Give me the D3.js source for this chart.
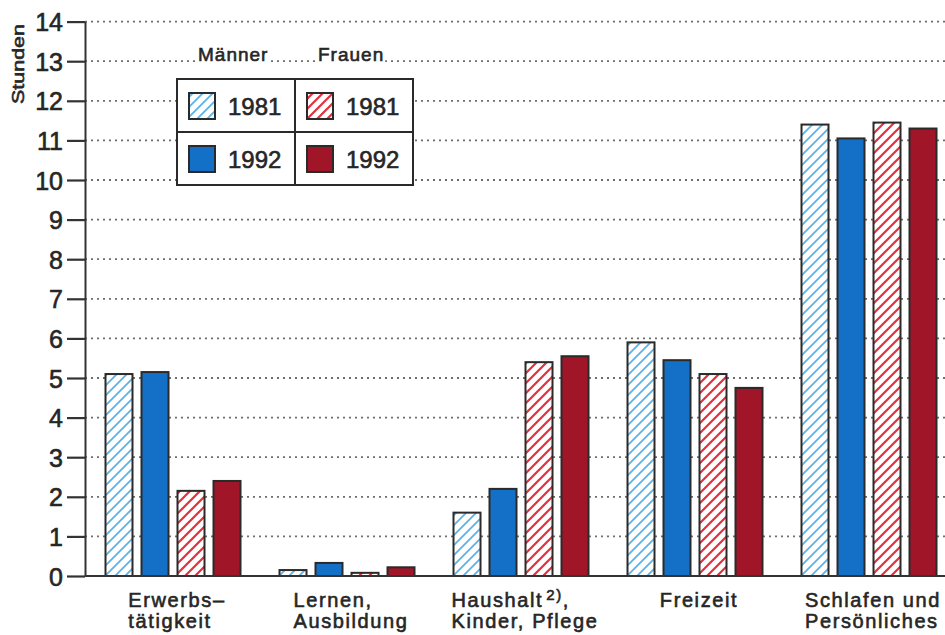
<!DOCTYPE html>
<html>
<head>
<meta charset="utf-8">
<script src="https://cdn.jsdelivr.net/npm/d3@7"></script>
<style>
  body { margin: 0; background: #fff; }
  svg { display: block; }
  text { font-family: "Liberation Sans", Arial, sans-serif; fill: #262626; stroke: #262626; stroke-width: 0.6px; }
</style>
</head>
<body>
<svg id="chart" width="945" height="635"></svg>
<script>
// Zeitverwendung pro Tag (Stunden) nach Tätigkeit, Geschlecht und Jahr
const categories = [
  ["Erwerbs–", "tätigkeit"],
  ["Lernen,", "Ausbildung"],
  ["Haushalt{2)},", "Kinder, Pflege"],
  ["Freizeit"],
  ["Schlafen und", "Persönliches"]
];
const maenner1981 = [5.1, 0.15, 1.6, 5.9, 11.4];
const maenner1992 = [5.15, 0.33, 2.2, 5.45, 11.05];
const frauen1981 = [2.15, 0.08, 5.4, 5.1, 11.45];
const frauen1992 = [2.4, 0.22, 5.55, 4.75, 11.3];
const yTicks = [0, 1, 2, 3, 4, 5, 6, 7, 8, 9, 10, 11, 12, 13, 14];
const yTitle = "Stunden";
const legendGroups = ["Männer", "Frauen"];
const legendYears = ["1981", "1992"];

const series = [
  { key: "m81", values: maenner1981, fill: "url(#hatchBlue)" },
  { key: "m92", values: maenner1992, fill: "#1470c6" },
  { key: "f81", values: frauen1981, fill: "url(#hatchRed)" },
  { key: "f92", values: frauen1992, fill: "#a11529" }
];

const W = 945, H = 635;
const axisX = 85, baseY = 576, topY = 21.6;
const svg = d3.select("#chart");

// Hatch patterns for the 1981 bars
const defs = svg.append("defs");
function hatch(id, color, width) {
  const p = defs.append("pattern")
    .attr("id", id).attr("patternUnits", "userSpaceOnUse")
    .attr("width", 10).attr("height", 10);
  p.append("rect").attr("width", 10).attr("height", 10).attr("fill", "#fff");
  p.append("path")
    .attr("d", "M-2,2 L2,-2 M0,10 L10,0 M8,12 L12,8")
    .attr("stroke", color).attr("stroke-width", width);
}
hatch("hatchBlue", "#5cb3e8", 1.8);
hatch("hatchRed", "#e5303c", 2.2);

const y = d3.scaleLinear().domain([0, 14]).range([baseY, topY]);
const x0 = d3.scaleBand().domain(d3.range(categories.length))
  .range([axisX + 1, axisX + 1 + 870]).paddingInner(30 / 174).paddingOuter(15 / 174);
const x1 = d3.scaleBand().domain(series.map(s => s.key))
  .range([0, x0.bandwidth()]).paddingInner(0.25).paddingOuter(0.125);

// Dotted grid lines
svg.append("g").selectAll("line")
  .data(yTicks.filter(t => t > 0))
  .join("line")
  .attr("x1", axisX).attr("x2", W)
  .attr("y1", d => y(d)).attr("y2", d => y(d))
  .attr("stroke", "#6e6e6e").attr("stroke-width", 1.8)
  .attr("stroke-dasharray", "2 4");

// Bars
const groups = svg.append("g").selectAll("g")
  .data(categories.map((c, i) => i))
  .join("g")
  .attr("transform", i => `translate(${x0(i)},0)`);
groups.selectAll("rect")
  .data(i => series.map(s => ({ key: s.key, fill: s.fill, v: s.values[i] })))
  .join("rect")
  .attr("x", d => x1(d.key))
  .attr("width", x1.bandwidth())
  .attr("y", d => y(d.v))
  .attr("height", d => baseY - y(d.v))
  .attr("fill", d => d.fill)
  .attr("stroke", "#2a2a2a").attr("stroke-width", 2);

// Y axis
const yAxis = svg.append("g")
  .attr("transform", `translate(${axisX},0)`)
  .call(d3.axisLeft(y).tickValues(yTicks).tickFormat(d3.format("d"))
    .tickSize(18).tickSizeOuter(0).tickPadding(4));
yAxis.select(".domain").attr("stroke", "#333").attr("stroke-width", 2);
yAxis.selectAll(".tick line").attr("stroke", "#333").attr("stroke-width", 2.2);
yAxis.selectAll(".tick text")
  .attr("font-size", 25).attr("font-family", "Liberation Sans, Arial, sans-serif")
  .attr("fill", "#262626").attr("dy", "0.36em");

// Baseline
svg.append("line")
  .attr("x1", axisX).attr("x2", W).attr("y1", baseY).attr("y2", baseY)
  .attr("stroke", "#333").attr("stroke-width", 2.2);

// Axis title
svg.append("text")
  .attr("transform", "translate(24,64) rotate(-90)")
  .attr("text-anchor", "middle")
  .attr("font-size", 17)
  .attr("textLength", 80).attr("lengthAdjust", "spacingAndGlyphs")
  .text(yTitle);

// Category labels (left-aligned block, centred under each group)
categories.forEach((lines, i) => {
  const g = svg.append("g");
  const t = g.append("text").attr("font-size", 20).attr("letter-spacing", 1.6);
  lines.forEach((line, li) => {
    const parts = line.split(/(\{[^}]*\})/).filter(p => p.length);
    parts.forEach((p, pi) => {
      const isSup = p.startsWith("{");
      const ts = t.append("tspan").text(isSup ? p.slice(1, -1) : p);
      if (pi === 0) ts.attr("x", 0).attr("y", 607 + li * 21);
      if (isSup) ts.attr("font-size", 15).attr("dy", -7).attr("dx", 3);
      else if (pi > 0 && parts[pi - 1].startsWith("{")) ts.attr("dy", 7);
    });
  });
  const bb = t.node().getBBox();
  g.attr("transform", `translate(${x0(i) + x0.bandwidth() / 2 - bb.width / 2 + 4},0)`);
});

// Legend header on the 13-hour grid line
const header = svg.append("g");
[[198, legendGroups[0]], [318, legendGroups[1]]].forEach(([hx, label]) => {
  const t = header.append("text").attr("x", hx).attr("y", 61)
    .attr("font-size", 19).attr("letter-spacing", 1).text(label);
  const bb = t.node().getBBox();
  header.insert("rect", "text").attr("x", bb.x - 1).attr("y", bb.y)
    .attr("width", bb.width + 2).attr("height", bb.height - 3).attr("fill", "#fff");
});

// Legend box
const lg = svg.append("g").attr("transform", "translate(177,79)");
const cellW = 118, cellH = 53;
lg.append("rect").attr("width", cellW * 2).attr("height", cellH * 2)
  .attr("fill", "#fff").attr("stroke", "#2a2a2a").attr("stroke-width", 2);
lg.append("line").attr("x1", cellW).attr("x2", cellW).attr("y1", 0).attr("y2", cellH * 2)
  .attr("stroke", "#2a2a2a").attr("stroke-width", 2);
lg.append("line").attr("x1", 0).attr("x2", cellW * 2).attr("y1", cellH).attr("y2", cellH)
  .attr("stroke", "#2a2a2a").attr("stroke-width", 2);
series.forEach((s, k) => {
  const col = Math.floor(k / 2), row = k % 2;
  const cx = col * cellW, cy = row * cellH;
  lg.append("rect").attr("x", cx + 12).attr("y", cy + 14)
    .attr("width", 26).attr("height", 26)
    .attr("fill", s.fill).attr("stroke", "#2a2a2a").attr("stroke-width", 2);
  lg.append("text").attr("x", cx + 51).attr("y", cy + 36)
    .attr("font-size", 24).text(legendYears[row]);
});
</script>
</body>
</html>
